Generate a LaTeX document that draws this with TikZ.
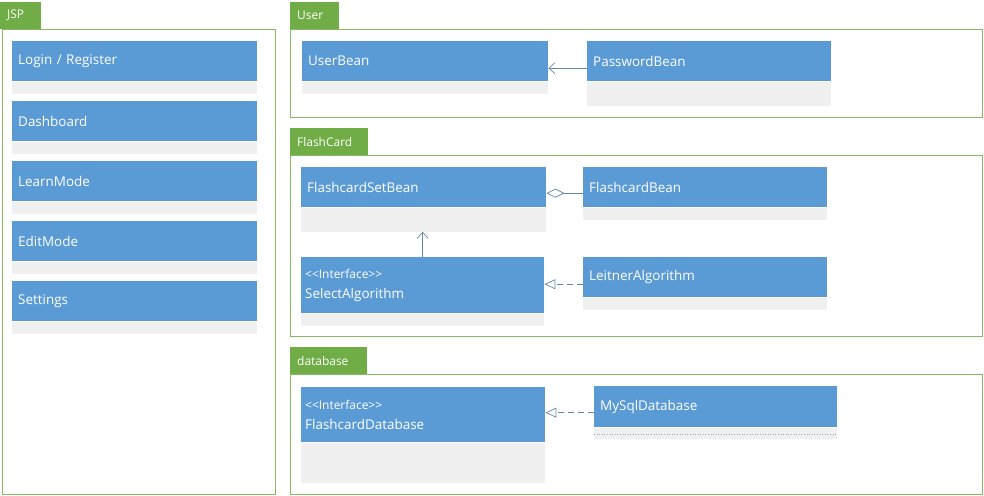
\documentclass[tikz,border=0pt]{standalone}
\usepackage{fontspec}
\setmainfont{Open Sans}
\usetikzlibrary{arrows.meta,positioning}

\definecolor{umlblue}{HTML}{5B9BD5}
\definecolor{umlgrey}{HTML}{F0F0F0}
\definecolor{pkggreen}{HTML}{70AD47}
\definecolor{pkgline}{HTML}{86B865}
\definecolor{linkblue}{HTML}{6289AC}

\tikzset{
  pkgtab/.style={fill=pkggreen, text=white, anchor=north west, inner xsep=7bp,
    inner ysep=0pt, text width=#1, minimum height=27bp, font=\fontsize{12}{14}\selectfont},
  pkgbox/.style={draw=pkgline, line width=0.9bp, anchor=north west, inner sep=0pt},
  classhead/.style={fill=umlblue, text=white, anchor=north west, inner xsep=6bp,
    inner ysep=0pt, text width=#1, align=left},
  classbody/.style={fill=umlgrey, anchor=north west, inner sep=0pt, minimum width=#1},
  link/.style={draw=linkblue, line width=0.7bp},
  assoc/.style={link, -{Straight Barb[length=6bp,width=11bp]}},
  realize/.style={link, dash pattern=on 6bp off 4bp, -{Triangle[open,length=11bp,width=10bp]}},
  aggreg/.style={link, {Diamond[open,length=18bp,width=9bp]}-},
}
\newcommand{\stereo}{{\fontsize{12}{13}\selectfont<\kern0pt<Interface>\kern0pt>}}

\begin{document}
\begin{tikzpicture}[x=1bp, y=-1bp, font=\fontsize{13.5}{16}\selectfont]
  \useasboundingbox (0,0) rectangle (984,496);

  % packages
  \node[pkgbox, minimum width=273bp, minimum height=465bp] (jsppkg) at (2,29) {};
  \node[pkgtab=27bp] (jsptab) at (0,2) {JSP};
  \node[pkgbox, minimum width=692bp, minimum height=88bp] (userpkg) at (290,29) {};
  \node[pkgtab=35bp] (usertab) at (290,2) {User};
  \node[pkgbox, minimum width=692bp, minimum height=181bp] (cardpkg) at (290,155) {};
  \node[pkgtab=64bp] (cardtab) at (290,128) {FlashCard};
  \node[pkgbox, minimum width=692bp, minimum height=120bp] (dbpkg) at (290,374) {};
  \node[pkgtab=63bp] (dbtab) at (290,347) {database};

  % JSP pages
  \foreach \page [count=\i from 0] in {Login / Register, Dashboard, LearnMode, EditMode, Settings} {
    \node[classhead=233bp, minimum height=40bp] (page\i) at (12,{41+60*\i}) {\page};
    \node[classbody=245bp, minimum height=12bp] (page\i-c) at (page\i.south west) {};
  }

  % User
  \node[classhead=234bp, minimum height=40bp] (userbean) at (302,41) {UserBean};
  \node[classbody=246bp, minimum height=12bp] (userbean-c) at (userbean.south west) {};
  \node[classhead=232bp, minimum height=40bp] (pwbean) at (587,41) {PasswordBean};
  \node[classbody=244bp, minimum height=24bp] (pwbean-c) at (pwbean.south west) {};

  % FlashCard
  \node[classhead=233bp, minimum height=40bp] (setbean) at (301,167) {FlashcardSetBean};
  \node[classbody=245bp, minimum height=24bp] (setbean-c) at (setbean.south west) {};
  \node[classhead=232bp, minimum height=40bp] (cardbean) at (583,167) {FlashcardBean};
  \node[classbody=244bp, minimum height=12bp] (cardbean-c) at (cardbean.south west) {};
  \node[classhead=235bp, minimum height=56bp, inner xsep=4bp] (selectalg) at (301,257) {\stereo\\[4bp]SelectAlgorithm};
  \node[classbody=243bp, minimum height=12bp] (selectalg-c) at (selectalg.south west) {};
  \node[classhead=232bp, minimum height=40bp] (leitner) at (583,257) {LeitnerAlgorithm};
  \node[classbody=244bp, minimum height=12bp] (leitner-c) at (leitner.south west) {};

  % database
  \node[classhead=236bp, minimum height=55bp, inner xsep=4bp] (carddb) at (301,387) {\stereo\\[4bp]FlashcardDatabase};
  \node[classbody=244bp, minimum height=40bp] (carddb-c) at (carddb.south west) {};
  \node[classhead=231bp, minimum height=41bp] (mysqldb) at (594,386) {MySqlDatabase};
  \node[classbody=243bp, minimum height=11bp] (mysqldb-c) at (mysqldb.south west) {};
  \draw[linkblue!70, line width=0.6bp, dotted] ([yshift=-1bp]mysqldb-c.west) -- ([yshift=-1bp]mysqldb-c.east);

  % relations
  \draw[assoc] ([yshift=-7bp]pwbean.west) -- ([yshift=-7bp]userbean.east);
  \draw[aggreg] ([yshift=-6bp]setbean.east) -- ([yshift=-6bp]cardbean.west);
  \draw[assoc] (selectalg.north) -- (selectalg.north |- setbean-c.south);
  \draw[realize] ([yshift=-7bp]leitner.west) -- ([yshift=-7bp]leitner.west -| selectalg.east);
  \draw[realize] ([yshift=-6bp]mysqldb.west) -- ([yshift=-6bp]mysqldb.west -| carddb.east);
\end{tikzpicture}
\end{document}
